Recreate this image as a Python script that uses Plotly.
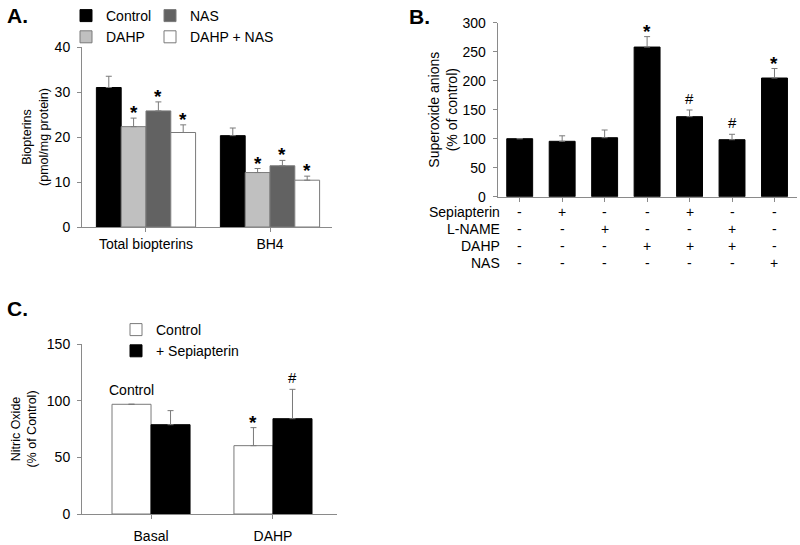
import plotly.graph_objects as go

FONT = "Liberation Sans, Arial, sans-serif"

# ---------------- Panel A data ----------------
a_groups = ["Total biopterins", "BH4"]
a_series = ["Control", "DAHP", "NAS", "DAHP + NAS"]
a_values = {
    "Control": [31.0, 20.3],
    "DAHP": [22.3, 12.1],
    "NAS": [25.8, 13.6],
    "DAHP + NAS": [21.0, 10.4],
}
a_errors = {
    "Control": [2.5, 1.7],
    "DAHP": [1.9, 0.9],
    "NAS": [2.0, 1.2],
    "DAHP + NAS": [1.7, 0.9],
}
a_sig = {
    "Control": ["", ""],
    "DAHP": ["*", "*"],
    "NAS": ["*", "*"],
    "DAHP + NAS": ["*", "*"],
}
a_colors = {"Control": "#000000", "DAHP": "#c0c0c0", "NAS": "#626262", "DAHP + NAS": "#ffffff"}

# ---------------- Panel B data ----------------
b_conditions = ["Control", "Sepiapterin", "L-NAME", "DAHP", "DAHP+Sepiapterin", "DAHP+L-NAME", "NAS"]
b_values = [100, 95.5, 101.7, 258, 138, 98.3, 204.6]
b_errors = [0, 9.5, 13.3, 18, 11.5, 9.3, 16.4]
b_sig = ["", "", "", "*", "#", "#", "*"]
b_rows = ["Sepiapterin", "L-NAME", "DAHP", "NAS"]
b_table = {
    "Sepiapterin": ["-", "+", "-", "-", "+", "-", "-"],
    "L-NAME":      ["-", "-", "+", "-", "-", "+", "-"],
    "DAHP":        ["-", "-", "-", "+", "+", "+", "-"],
    "NAS":         ["-", "-", "-", "-", "-", "-", "+"],
}

# ---------------- Panel C data ----------------
c_groups = ["Basal", "DAHP"]
c_series = ["Control", "+ Sepiapterin"]
c_values = {"Control": [96.8, 60.3], "+ Sepiapterin": [78.8, 84.1]}
c_errors = {"Control": [0, 15.9], "+ Sepiapterin": [12.4, 25.9]}
c_sig = {"Control": ["", "*"], "+ Sepiapterin": ["", "#"]}
c_colors = {"Control": "#ffffff", "+ Sepiapterin": "#000000"}

W, H = 800, 545
def px(x):
    return x / W
def py(y):
    return 1 - y / H

fig = go.Figure()
annotations = []

STAR = dict(size=19, family=FONT, color="#000")
HASH = dict(size=15, family=FONT, color="#000")

# Panel A bars
a_width = 0.2
a_offsets = [-0.4, -0.2, 0.0, 0.2]
for i, s in enumerate(a_series):
    fig.add_trace(go.Bar(
        x=a_groups, y=a_values[s], name=s,
        width=a_width, offset=a_offsets[i],
        marker=dict(color=a_colors[s], line=dict(color="#000000" if s == "Control" else "#7a7a7a", width=1)),
        error_y=dict(type="data", symmetric=False, array=a_errors[s], arrayminus=[0, 0],
                     color="#7a7a7a", thickness=1, width=3),
        xaxis="x", yaxis="y", legend="legend" if s in ("Control", "DAHP") else "legend2",
    ))
    for j, g in enumerate(a_groups):
        if a_sig[s][j]:
            annotations.append(dict(
                x=j + a_offsets[i] + a_width / 2, y=a_values[s][j] + a_errors[s][j],
                xref="x", yref="y", text="<b>*</b>", showarrow=False,
                yanchor="bottom", yshift=-7, font=STAR))

# Panel B bars
b_width = 0.61
fig.add_trace(go.Bar(
    x=b_conditions, y=b_values, name="Superoxide", showlegend=False,
    width=b_width, offset=-b_width / 2,
    marker=dict(color="#000000", line=dict(color="#000000", width=1)),
    error_y=dict(type="data", symmetric=False, array=b_errors, arrayminus=[0] * 7,
                 color="#7a7a7a", thickness=1, width=3),
    xaxis="x2", yaxis="y2",
))
for j, c in enumerate(b_conditions):
    if b_sig[j] == "*":
        annotations.append(dict(x=c, y=b_values[j] + b_errors[j], xref="x2", yref="y2",
                                text="<b>*</b>", showarrow=False, yanchor="bottom", yshift=-7,
                                font=STAR))
    elif b_sig[j] == "#":
        annotations.append(dict(x=c, y=b_values[j] + b_errors[j], xref="x2", yref="y2",
                                text="#", showarrow=False, yanchor="bottom", yshift=1,
                                font=HASH))
row_y = [212, 229, 246, 263]
for r, row in enumerate(b_rows):
    annotations.append(dict(x=px(502), y=py(row_y[r]), xref="paper", yref="paper",
                            text=row, showarrow=False, xanchor="right", yanchor="middle",
                            font=dict(size=14, family=FONT, color="#000")))
    for j, c in enumerate(b_conditions):
        annotations.append(dict(x=c, y=py(row_y[r]), xref="x2", yref="paper",
                                text=b_table[row][j], showarrow=False, yanchor="middle",
                                font=dict(size=14, family=FONT, color="#000")))

# Panel C bars
c_width = 0.32
c_offsets = [-0.32, 0.0]
for i, s in enumerate(c_series):
    fig.add_trace(go.Bar(
        x=c_groups, y=c_values[s], name=s,
        width=c_width, offset=c_offsets[i],
        marker=dict(color=c_colors[s], line=dict(color="#000000" if c_colors[s] == "#000000" else "#7a7a7a", width=1)),
        error_y=dict(type="data", symmetric=False, array=c_errors[s], arrayminus=[0, 0],
                     color="#7a7a7a", thickness=1, width=3),
        xaxis="x3", yaxis="y3", legend="legend3", legendgroup=s,
    ))
    for j, g in enumerate(c_groups):
        sig = c_sig[s][j]
        if sig == "*":
            annotations.append(dict(x=j + c_offsets[i] + c_width / 2, y=c_values[s][j] + c_errors[s][j],
                                    xref="x3", yref="y3", text="<b>*</b>", showarrow=False,
                                    yanchor="bottom", yshift=-7, font=STAR))
        elif sig == "#":
            annotations.append(dict(x=j + c_offsets[i] + c_width / 2, y=c_values[s][j] + c_errors[s][j],
                                    xref="x3", yref="y3", text="#", showarrow=False,
                                    yanchor="bottom", yshift=1, font=HASH))
annotations.append(dict(x=0 + c_offsets[0] + c_width / 2, y=c_values["Control"][0], xref="x3", yref="y3",
                        text="Control", showarrow=False, yanchor="bottom", yshift=4,
                        font=dict(size=14, family=FONT, color="#000")))

# Panel letters
for letter, x0, y0 in [("A.", 5, 15), ("B.", 407, 16), ("C.", 5, 308)]:
    annotations.append(dict(x=px(x0), y=py(y0), xref="paper", yref="paper", text="<b>%s</b>" % letter,
                            showarrow=False, xanchor="left", yanchor="middle",
                            font=dict(size=21, family=FONT, color="#000")))

axis_common = dict(showline=True, linecolor="#8a8a8a", linewidth=1, ticks="outside",
                   tickcolor="#8a8a8a", ticklen=4, showgrid=False, zeroline=False,
                   tickfont=dict(size=14, family=FONT, color="#000"))

legend_common = dict(orientation="v", font=dict(size=14, family=FONT, color="#000"),
                     bgcolor="rgba(0,0,0,0)", traceorder="normal", itemwidth=30,
                     xanchor="left", yanchor="top")

fig.update_layout(
    width=W, height=H, margin=dict(l=0, r=0, t=0, b=0, autoexpand=False),
    paper_bgcolor="white", plot_bgcolor="white", barmode="overlay",
    font=dict(family=FONT, color="#000"),
    annotations=annotations,
    xaxis=dict(domain=[px(82), px(332)], anchor="y", type="category", range=[-0.516, 1.5],
               ticklabelstandoff=0, **axis_common),
    yaxis=dict(domain=[py(227), py(47)], anchor="x", range=[0, 40], tickvals=[0, 10, 20, 30, 40],
               ticklabelstandoff=4,
               title=dict(text="Biopterins<br>(pmol/mg protein)", font=dict(size=12.5, family=FONT), standoff=3),
               **axis_common),
    xaxis2=dict(domain=[px(497.7), px(797)], anchor="y2", type="category", range=[-0.518, 6.53],
                showticklabels=False, **axis_common),
    yaxis2=dict(domain=[py(196.7), py(22.7)], anchor="x2", range=[0, 300],
                tickvals=[0, 50, 100, 150, 200, 250, 300], ticklabelstandoff=4,
                title=dict(text="Superoxide anions<br>(% of control)", font=dict(size=14, family=FONT), standoff=1),
                **axis_common),
    xaxis3=dict(domain=[px(82), px(337)], anchor="y3", type="category", range=[-0.566, 1.525],
                ticklabelstandoff=5, **axis_common),
    yaxis3=dict(domain=[py(514), py(344)], anchor="x3", range=[0, 150], tickvals=[0, 50, 100, 150],
                ticklabelstandoff=4,
                title=dict(text="Nitric Oxide<br>(% of Control)", font=dict(size=12.5, family=FONT), standoff=7),
                **axis_common),
    legend=dict(x=px(66), y=py(15 - 15), **legend_common),
    legend2=dict(x=px(150), y=py(15 - 15), **legend_common),
    legend3=dict(x=px(116), y=py(328 - 14), tracegroupgap=3, **legend_common),
)

fig.write_html("out.html", config={"displayModeBar": False},
               post_script="document.body.style.margin='0px';")
